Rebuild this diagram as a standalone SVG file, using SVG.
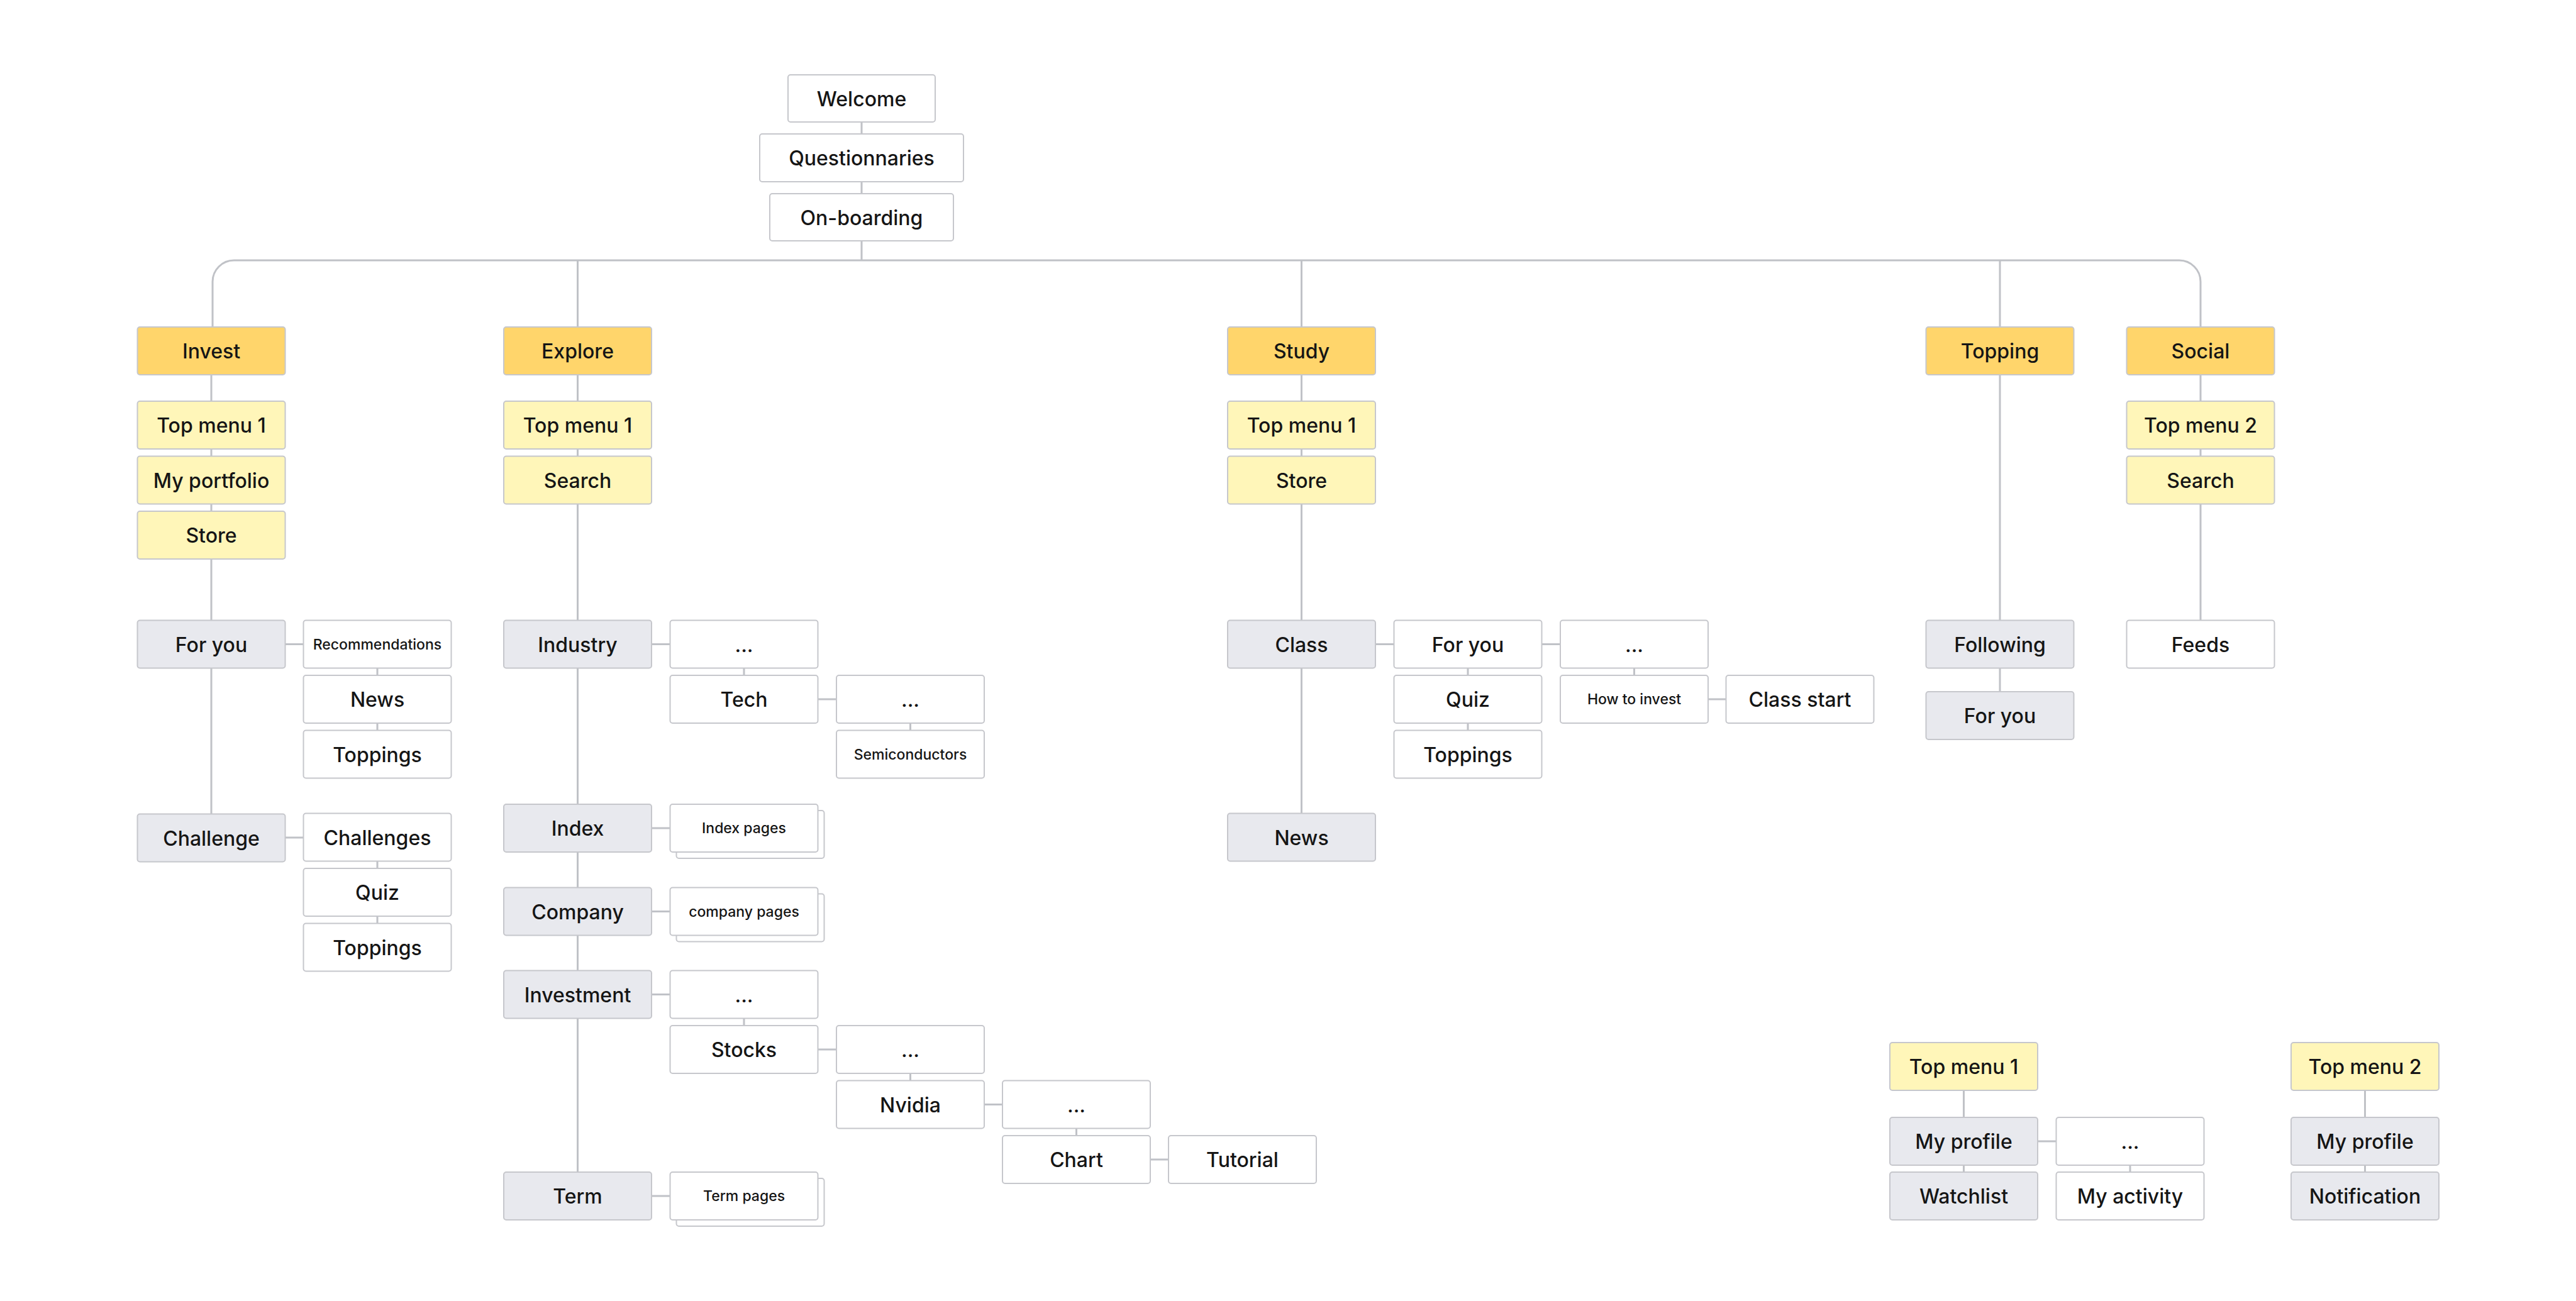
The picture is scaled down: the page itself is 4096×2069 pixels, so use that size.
<svg xmlns="http://www.w3.org/2000/svg" width="4096" height="2069" viewBox="0 0 4096 2069">
<style>
rect{stroke:#c6c7cc;stroke-width:2}
.c{fill:#ffd56b}
.m{fill:#fff6b9}
.g{fill:#e8e9ee}
.w{fill:#ffffff}
text{font-family:"Inter","Noto Sans",sans-serif;fill:#151515;text-anchor:middle;font-weight:500}
.t{font-size:32px}
.s{font-size:23px}
#connectors path{fill:none;stroke:#c0c2c7;stroke-width:3}
</style>
<rect x="0" y="0" width="4096" height="2069" fill="#ffffff" style="stroke:none"/>
<g id="connectors">
<path d="M1370 194V213M1370 289V308M1370 383V414"/>
<path d="M338 520V448A34 34 0 0 1 372 414H3465A34 34 0 0 1 3499 448V520"/>
<path d="M918.5 414V520M2069.5 414V520M3180 414V520"/>
<path d="M336 596V1294.5M454 1024.5H482.5M600 1062.5V1161.5M454 1332H482.5M600 1369.5V1468.5"/>
<path d="M918.5 596V1864M1036 1024.5H1065.5M1183 1062.5V1074M1300.5 1112H1330M1447.5 1150V1161.5M1036 1317H1065.5M1036 1449.5H1065.5M1036 1581.5H1065.5M1183 1619.5V1631M1300.5 1669H1330M1447.5 1707V1718.5M1565 1756.5H1594M1711.5 1794.5V1806M1829 1844H1858M1036 1902H1065.5"/>
<path d="M2069.5 596V1293.5M2187 1024.5H2216.5M2334 1062.5V1161.5M2451.5 1024.5H2481M2598.5 1062.5V1074M2716 1112H2744.5"/>
<path d="M3180 596V986.5M3180 1062.5V1100M3499 596V986.5"/>
<path d="M3122.5 1734V1864M3240 1815H3269.5M3387 1853V1864M3760.5 1734V1864"/>
</g>
<g id="welcome"><rect class="w" x="1253" y="119" width="234" height="75" rx="4"/><text class="t" x="1370" y="168.5">Welcome</text></g>
<g id="questionnaries"><rect class="w" x="1208" y="213" width="324" height="76" rx="4"/><text class="t" x="1370" y="263">Questionnaries</text></g>
<g id="onboarding"><rect class="w" x="1224" y="308" width="292" height="75" rx="4"/><text class="t" x="1370" y="357.5">On-boarding</text></g>

<g id="invest"><rect class="c" x="218.5" y="520" width="235" height="76" rx="4"/><text class="t" x="336" y="570">Invest</text></g>
<g id="inv_topmenu1"><rect class="m" x="218.5" y="638" width="235" height="76" rx="4"/><text class="t" x="336" y="688">Top menu 1</text></g>
<g id="inv_portfolio"><rect class="m" x="218.5" y="725.5" width="235" height="76" rx="4"/><text class="t" x="336" y="775.5">My portfolio</text></g>
<g id="inv_store"><rect class="m" x="218.5" y="813" width="235" height="76" rx="4"/><text class="t" x="336" y="863">Store</text></g>
<g id="inv_foryou"><rect class="g" x="218.5" y="986.5" width="235" height="76" rx="4"/><text class="t" x="336" y="1036.5">For you</text></g>
<g id="inv_recommendations"><rect class="w" x="482.5" y="986.5" width="235" height="76" rx="4"/><text class="s" x="600" y="1032.5">Recommendations</text></g>
<g id="inv_news"><rect class="w" x="482.5" y="1074" width="235" height="76" rx="4"/><text class="t" x="600" y="1124">News</text></g>
<g id="inv_toppings"><rect class="w" x="482.5" y="1161.5" width="235" height="76" rx="4"/><text class="t" x="600" y="1211.5">Toppings</text></g>
<g id="inv_challenge"><rect class="g" x="218.5" y="1294.5" width="235" height="76" rx="4"/><text class="t" x="336" y="1344.5">Challenge</text></g>
<g id="inv_challenges"><rect class="w" x="482.5" y="1293.5" width="235" height="76" rx="4"/><text class="t" x="600" y="1343.5">Challenges</text></g>
<g id="inv_quiz"><rect class="w" x="482.5" y="1381" width="235" height="76" rx="4"/><text class="t" x="600" y="1431">Quiz</text></g>
<g id="inv_toppings2"><rect class="w" x="482.5" y="1468.5" width="235" height="76" rx="4"/><text class="t" x="600" y="1518.5">Toppings</text></g>

<g id="explore"><rect class="c" x="801" y="520" width="235" height="76" rx="4"/><text class="t" x="918.5" y="570">Explore</text></g>
<g id="exp_topmenu1"><rect class="m" x="801" y="638" width="235" height="76" rx="4"/><text class="t" x="918.5" y="688">Top menu 1</text></g>
<g id="exp_search"><rect class="m" x="801" y="725.5" width="235" height="76" rx="4"/><text class="t" x="918.5" y="775.5">Search</text></g>
<g id="exp_industry"><rect class="g" x="801" y="986.5" width="235" height="76" rx="4"/><text class="t" x="918.5" y="1036.5">Industry</text></g>
<g id="exp_industry_more"><rect class="w" x="1065.5" y="986.5" width="235" height="76" rx="4"/><text class="t" x="1183" y="1036.5">...</text></g>
<g id="exp_tech"><rect class="w" x="1065.5" y="1074" width="235" height="76" rx="4"/><text class="t" x="1183" y="1124">Tech</text></g>
<g id="exp_tech_more"><rect class="w" x="1330" y="1074" width="235" height="76" rx="4"/><text class="t" x="1447.5" y="1124">...</text></g>
<g id="exp_semiconductors"><rect class="w" x="1330" y="1161.5" width="235" height="76" rx="4"/><text class="s" x="1447.5" y="1207.5">Semiconductors</text></g>
<g id="exp_index"><rect class="g" x="801" y="1279" width="235" height="76" rx="4"/><text class="t" x="918.5" y="1329">Index</text></g>
<g id="exp_index_pages"><rect class="w" x="1075.5" y="1289" width="235" height="76" rx="4"/><rect class="w" x="1065.5" y="1279" width="235" height="76" rx="4"/><text class="s" x="1183" y="1325">Index pages</text></g>
<g id="exp_company"><rect class="g" x="801" y="1411.5" width="235" height="76" rx="4"/><text class="t" x="918.5" y="1461.5">Company</text></g>
<g id="exp_company_pages"><rect class="w" x="1075.5" y="1421.5" width="235" height="76" rx="4"/><rect class="w" x="1065.5" y="1411.5" width="235" height="76" rx="4"/><text class="s" x="1183" y="1457.5">company pages</text></g>
<g id="exp_investment"><rect class="g" x="801" y="1543.5" width="235" height="76" rx="4"/><text class="t" x="918.5" y="1593.5">Investment</text></g>
<g id="exp_investment_more"><rect class="w" x="1065.5" y="1543.5" width="235" height="76" rx="4"/><text class="t" x="1183" y="1593.5">...</text></g>
<g id="exp_stocks"><rect class="w" x="1065.5" y="1631" width="235" height="76" rx="4"/><text class="t" x="1183" y="1681">Stocks</text></g>
<g id="exp_stocks_more"><rect class="w" x="1330" y="1631" width="235" height="76" rx="4"/><text class="t" x="1447.5" y="1681">...</text></g>
<g id="exp_nvidia"><rect class="w" x="1330" y="1718.5" width="235" height="76" rx="4"/><text class="t" x="1447.5" y="1768.5">Nvidia</text></g>
<g id="exp_nvidia_more"><rect class="w" x="1594" y="1718.5" width="235" height="76" rx="4"/><text class="t" x="1711.5" y="1768.5">...</text></g>
<g id="exp_chart"><rect class="w" x="1594" y="1806" width="235" height="76" rx="4"/><text class="t" x="1711.5" y="1856">Chart</text></g>
<g id="exp_tutorial"><rect class="w" x="1858" y="1806" width="235" height="76" rx="4"/><text class="t" x="1975.5" y="1856">Tutorial</text></g>
<g id="exp_term"><rect class="g" x="801" y="1864" width="235" height="76" rx="4"/><text class="t" x="918.5" y="1914">Term</text></g>
<g id="exp_term_pages"><rect class="w" x="1075.5" y="1874" width="235" height="76" rx="4"/><rect class="w" x="1065.5" y="1864" width="235" height="76" rx="4"/><text class="s" x="1183" y="1910">Term pages</text></g>

<g id="study"><rect class="c" x="1952" y="520" width="235" height="76" rx="4"/><text class="t" x="2069.5" y="570">Study</text></g>
<g id="stu_topmenu1"><rect class="m" x="1952" y="638" width="235" height="76" rx="4"/><text class="t" x="2069.5" y="688">Top menu 1</text></g>
<g id="stu_store"><rect class="m" x="1952" y="725.5" width="235" height="76" rx="4"/><text class="t" x="2069.5" y="775.5">Store</text></g>
<g id="stu_class"><rect class="g" x="1952" y="986.5" width="235" height="76" rx="4"/><text class="t" x="2069.5" y="1036.5">Class</text></g>
<g id="stu_foryou"><rect class="w" x="2216.5" y="986.5" width="235" height="76" rx="4"/><text class="t" x="2334" y="1036.5">For you</text></g>
<g id="stu_quiz"><rect class="w" x="2216.5" y="1074" width="235" height="76" rx="4"/><text class="t" x="2334" y="1124">Quiz</text></g>
<g id="stu_toppings"><rect class="w" x="2216.5" y="1161.5" width="235" height="76" rx="4"/><text class="t" x="2334" y="1211.5">Toppings</text></g>
<g id="stu_foryou_more"><rect class="w" x="2481" y="986.5" width="235" height="76" rx="4"/><text class="t" x="2598.5" y="1036.5">...</text></g>
<g id="stu_howtoinvest"><rect class="w" x="2481" y="1074" width="235" height="76" rx="4"/><text class="s" x="2598.5" y="1120">How to invest</text></g>
<g id="stu_classstart"><rect class="w" x="2744.5" y="1074" width="235" height="76" rx="4"/><text class="t" x="2862" y="1124">Class start</text></g>
<g id="stu_news"><rect class="g" x="1952" y="1293.5" width="235" height="76" rx="4"/><text class="t" x="2069.5" y="1343.5">News</text></g>

<g id="topping"><rect class="c" x="3062.5" y="520" width="235" height="76" rx="4"/><text class="t" x="3180" y="570">Topping</text></g>
<g id="top_following"><rect class="g" x="3062.5" y="986.5" width="235" height="76" rx="4"/><text class="t" x="3180" y="1036.5">Following</text></g>
<g id="top_foryou"><rect class="g" x="3062.5" y="1100" width="235" height="76" rx="4"/><text class="t" x="3180" y="1150">For you</text></g>

<g id="social"><rect class="c" x="3381.5" y="520" width="235" height="76" rx="4"/><text class="t" x="3499" y="570">Social</text></g>
<g id="soc_topmenu2"><rect class="m" x="3381.5" y="638" width="235" height="76" rx="4"/><text class="t" x="3499" y="688">Top menu 2</text></g>
<g id="soc_search"><rect class="m" x="3381.5" y="725.5" width="235" height="76" rx="4"/><text class="t" x="3499" y="775.5">Search</text></g>
<g id="soc_feeds"><rect class="w" x="3381.5" y="986.5" width="235" height="76" rx="4"/><text class="t" x="3499" y="1036.5">Feeds</text></g>

<g id="topmenu1"><rect class="m" x="3005" y="1658" width="235" height="76" rx="4"/><text class="t" x="3122.5" y="1708">Top menu 1</text></g>
<g id="tm1_myprofile"><rect class="g" x="3005" y="1777" width="235" height="76" rx="4"/><text class="t" x="3122.5" y="1827">My profile</text></g>
<g id="tm1_watchlist"><rect class="g" x="3005" y="1864" width="235" height="76" rx="4"/><text class="t" x="3122.5" y="1914">Watchlist</text></g>
<g id="tm1_more"><rect class="w" x="3269.5" y="1777" width="235" height="76" rx="4"/><text class="t" x="3387" y="1827">...</text></g>
<g id="tm1_myactivity"><rect class="w" x="3269.5" y="1864" width="235" height="76" rx="4"/><text class="t" x="3387" y="1914">My activity</text></g>

<g id="topmenu2"><rect class="m" x="3643" y="1658" width="235" height="76" rx="4"/><text class="t" x="3760.5" y="1708">Top menu 2</text></g>
<g id="tm2_myprofile"><rect class="g" x="3643" y="1777" width="235" height="76" rx="4"/><text class="t" x="3760.5" y="1827">My profile</text></g>
<g id="tm2_notification"><rect class="g" x="3643" y="1864" width="235" height="76" rx="4"/><text class="t" x="3760.5" y="1914">Notification</text></g>
</svg>
